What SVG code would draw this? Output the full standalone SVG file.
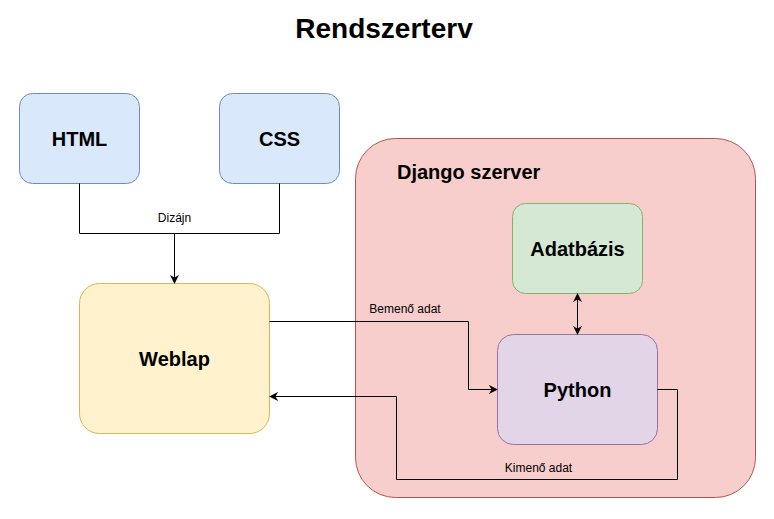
<svg xmlns="http://www.w3.org/2000/svg" width="774" height="519" viewBox="0 0 774 519">
<defs>
<style>
.lbl{font-family:"Liberation Sans",Arial,sans-serif;font-weight:bold;font-size:20px;fill:#000;text-anchor:middle;dominant-baseline:central}
.elbl{font-family:"Liberation Sans",Arial,sans-serif;font-size:12px;fill:#000;text-anchor:middle;dominant-baseline:central}
.edge{fill:none;stroke:#000;stroke-width:1}
</style>
<marker id="arr" viewBox="0 0 10 10" refX="9" refY="5" markerWidth="9" markerHeight="9" orient="auto-start-reverse" markerUnits="userSpaceOnUse">
<path d="M0,0 L10,5 L0,10 L3,5 Z" fill="#000"/>
</marker>
</defs>
<rect width="774" height="519" fill="#fff"/>
<text x="384" y="28" class="lbl" style="font-size:28px">Rendszerterv</text>

<g id="django">
<rect x="355.5" y="138.5" width="400" height="359" rx="40" fill="#f8cecc" stroke="#b85450"/>
<text x="397" y="172" style="font-family:'Liberation Sans',Arial,sans-serif;font-weight:bold;font-size:20px;dominant-baseline:central">Django szerver</text>
</g>
<g id="html">
<rect x="19.5" y="93.5" width="120" height="90" rx="13" fill="#dae8fc" stroke="#6c8ebf"/>
<text x="79.5" y="138.5" class="lbl">HTML</text>
</g>
<g id="css">
<rect x="219.5" y="93.5" width="120" height="90" rx="13" fill="#dae8fc" stroke="#6c8ebf"/>
<text x="279.5" y="138.5" class="lbl">CSS</text>
</g>
<g id="weblap">
<rect x="79.5" y="283.5" width="190" height="150" rx="20" fill="#fff2cc" stroke="#d6b656"/>
<text x="174.5" y="358.5" class="lbl">Weblap</text>
</g>
<g id="adatbazis">
<rect x="512.5" y="203.5" width="130" height="90" rx="13" fill="#d5e8d4" stroke="#82b366"/>
<text x="577.5" y="248.5" class="lbl">Adatbázis</text>
</g>
<g id="python">
<rect x="497.5" y="334.5" width="160" height="110" rx="16" fill="#e1d5e7" stroke="#9673a6"/>
<text x="577.5" y="389.5" class="lbl">Python</text>
</g>

<g id="connectors">
<path class="edge" d="M79.5,183.5 V233.5 H279.5 V183.5"/>
<path class="edge" d="M174.5,233.5 V283" marker-end="url(#arr)"/>
<text x="174.5" y="217.5" class="elbl">Dizájn</text>
<path class="edge" d="M269.5,321.5 H468.5 V389.5 H497" marker-end="url(#arr)"/>
<text x="405" y="309" class="elbl">Bemenő adat</text>
<path class="edge" d="M657.5,389.5 H677.5 V479.5 H396.5 V396.5 H270" marker-end="url(#arr)"/>
<text x="538.5" y="467.5" class="elbl">Kimenő adat</text>
<path class="edge" d="M577.5,294 V334" marker-start="url(#arr)" marker-end="url(#arr)"/>
</g>
</svg>
